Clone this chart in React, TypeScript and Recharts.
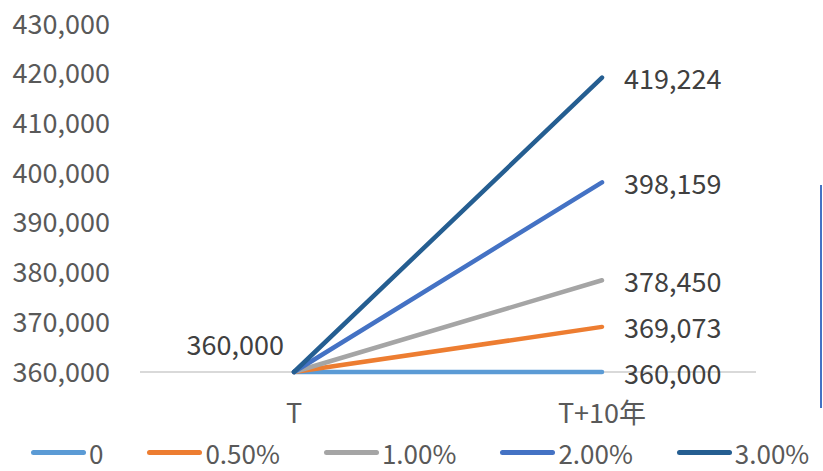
import { LineChart, Line, XAxis, YAxis, Legend, LabelList, CartesianGrid } from 'recharts';

const periods = ['T', 'T+10年'];
const rateNames = ['0', '0.50%', '1.00%', '2.00%', '3.00%'];
const rate0 = [360000, 360000];
const rate050 = [360000, 369073];
const rate100 = [360000, 378450];
const rate200 = [360000, 398159];
const rate300 = [360000, 419224];
const yTicks = [360000, 370000, 380000, 390000, 400000, 410000, 420000, 430000];

const colors = ['#5B9BD5', '#ED7D31', '#A5A5A5', '#4472C4', '#255E91'];
const FONT = '"Noto Sans CJK TC", "Noto Sans", sans-serif';

const series = [rate0, rate050, rate100, rate200, rate300];

const data = periods.map((p, i) => {
  const row: Record<string, string | number> = { name: p };
  rateNames.forEach((r, k) => {
    row[r] = series[k][i];
  });
  return row;
});

const fmt = (v: number) => v.toLocaleString('en-US');

// end-of-line value, plus the starting value on the flat series
const makeLabel = (showStart: boolean) => (props: any) => {
  const { x, y, value, index } = props;
  if (index === 1) {
    return (
      <text x={x + 22} y={y} dominantBaseline="central" fontSize={27} fill="#404040" fontFamily={FONT}>
        {fmt(value)}
      </text>
    );
  }
  if (showStart && index === 0) {
    return (
      <text x={x - 10} y={y - 29} textAnchor="end" dominantBaseline="central" fontSize={27} fill="#404040" fontFamily={FONT}>
        {fmt(value)}
      </text>
    );
  }
  return null;
};

const LegendRow = () => (
  <div style={{ width: 823, height: 49, paddingLeft: 31, boxSizing: 'border-box', display: 'flex', alignItems: 'flex-end', gap: 44, fontFamily: FONT }}>
    {rateNames.map((r, i) => (
      <div key={r} style={{ display: 'flex', alignItems: 'center', flexShrink: 0 }}>
        <div style={{ width: 55, height: 5, borderRadius: 3, background: colors[i] }} />
        <span style={{ marginLeft: 3, fontSize: 26, color: '#595959', whiteSpace: 'nowrap' }}>{r}</span>
      </div>
    ))}
  </div>
);

export default function App() {
  return (
    <div style={{ position: 'absolute', left: 0, top: 0, width: 823, height: 471, background: '#fff' }}>
      <LineChart width={823} height={471} data={data} margin={{ top: 24, right: 67, left: 0, bottom: 0 }}>
        <CartesianGrid vertical={false} horizontalValues={[360000]} stroke="#D9D9D9" strokeWidth={2} />
        <XAxis
          dataKey="name"
          padding={{ left: 154, right: 154 }}
          height={50}
          tickLine={false}
          axisLine={false}
          tick={{ fontSize: 27, fill: '#595959', fontFamily: FONT }}
          tickMargin={26}
        />
        <YAxis
          type="number"
          domain={[360000, 430000]}
          ticks={yTicks}
          width={140}
          axisLine={false}
          tickLine={false}
          tickSize={0}
          tickMargin={30}
          tickFormatter={fmt}
          tick={{ fontSize: 27, fill: '#595959', fontFamily: FONT }}
        />
        <Legend verticalAlign="bottom" height={49} content={<LegendRow />} wrapperStyle={{ left: 0, bottom: 0, width: 823 }} />
        {rateNames.map((r, i) => (
          <Line
            key={r}
            type="linear"
            dataKey={r}
            stroke={colors[i]}
            strokeWidth={4.5}
            strokeLinecap="round"
            dot={false}
            activeDot={false}
            isAnimationActive={false}
          >
            <LabelList dataKey={r} content={makeLabel(i === 0)} />
          </Line>
        ))}
      </LineChart>
      <div style={{ position: 'absolute', left: 820, top: 185, width: 2, height: 223, background: '#4472C4' }} />
    </div>
  );
}
